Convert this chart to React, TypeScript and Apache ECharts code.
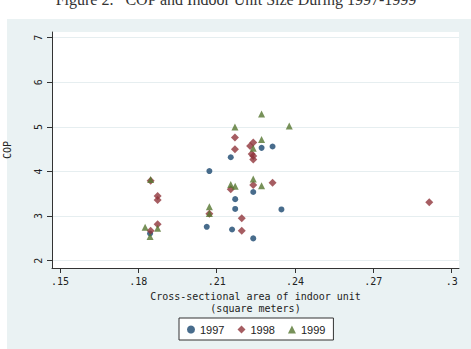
import React, { useEffect, useRef } from "react";
import * as echarts from "echarts";

const xTicks = [0.15, 0.18, 0.21, 0.24, 0.27, 0.3];
const xTickLabels = [".15", ".18", ".21", ".24", ".27", ".3"];
const yTicks = [2, 3, 4, 5, 6, 7];

const s1997: [number, number][] = [
  [0.2272, 4.53], [0.2314, 4.56], [0.2154, 4.32], [0.2072, 4.01], [0.224, 3.54],
  [0.2171, 3.38], [0.2171, 3.16], [0.2348, 3.15], [0.2062, 2.76], [0.2159, 2.7],
  [0.224, 2.5], [0.1845, 2.61],
];
const s1998: [number, number][] = [
  [0.217, 4.76], [0.224, 4.65], [0.2228, 4.57], [0.217, 4.5], [0.2234, 4.39],
  [0.224, 4.35], [0.224, 4.27], [0.1847, 3.79], [0.1874, 3.45], [0.1874, 3.36],
  [0.2154, 3.6], [0.224, 3.7], [0.2314, 3.75], [0.2072, 3.05], [0.2196, 2.95],
  [0.1874, 2.82], [0.1847, 2.67], [0.2196, 2.67], [0.2914, 3.31],
];
const s1999: [number, number][] = [
  [0.2272, 5.29], [0.217, 5.0], [0.2378, 5.02], [0.2272, 4.72], [0.224, 4.52],
  [0.1847, 3.82], [0.2154, 3.71], [0.2171, 3.67], [0.224, 3.83], [0.2272, 3.68],
  [0.2072, 3.21], [0.2072, 3.06], [0.1826, 2.75], [0.1874, 2.73], [0.1845, 2.54],
];

const MONO = '"DejaVu Sans Mono", monospace';

export default function App() {
  const ref = useRef<HTMLDivElement>(null);
  useEffect(() => {
    if (!ref.current) return;
    const chart = echarts.init(ref.current, null, { renderer: "svg" });
    chart.setOption({
      animation: false,
      backgroundColor: "#ffffff",
      graphic: [
        { type: "rect", z: -10, shape: { x: 7, y: 19, width: 464, height: 330 }, style: { fill: "#eaf2f3" } },
        {
          type: "text", x: 236, y: -9,
          style: { text: "Figure 2.   COP and Indoor Unit Size During 1997-1999", font: '16px "Liberation Serif"', fill: "#333", textAlign: "center", textVerticalAlign: "top" },
        },
      ],
      grid: {
        left: 52, right: 12, top: 32, bottom: 81, show: true, backgroundColor: "#ffffff", borderWidth: 0,
        containLabel: false, outerBoundsMode: "none",
      },
      xAxis: {
        type: "value", min: 0.14694, max: 0.3028,
        name: "Cross-sectional area of indoor unit\n(square meters)",
        nameLocation: "middle", nameGap: 21,
        nameTextStyle: { fontFamily: MONO, fontSize: 10, color: "#222", lineHeight: 12 },
        axisLine: { show: true, lineStyle: { color: "#333", width: 1 } },
        axisTick: { show: true, customValues: xTicks, length: 5, lineStyle: { color: "#333" } },
        axisLabel: {
          customValues: xTicks, fontFamily: MONO, fontSize: 10, color: "#222", margin: 8,
          formatter: (v: number) => { const i = xTicks.findIndex((t) => Math.abs(t - v) < 1e-6); return i >= 0 ? xTickLabels[i] : ""; },
        },
        splitLine: { show: false },
      },
      yAxis: {
        type: "value", min: 1.8363, max: 7.1278,
        name: "COP", nameLocation: "middle", nameGap: 40, nameRotate: 90,
        nameTextStyle: { fontFamily: MONO, fontSize: 10, color: "#222" },
        axisLine: { show: true, lineStyle: { color: "#333", width: 1 } },
        axisTick: { show: true, customValues: yTicks, length: 5, lineStyle: { color: "#333" } },
        axisLabel: { customValues: yTicks, rotate: 90, fontFamily: MONO, fontSize: 10, color: "#222", margin: 9 },
        splitLine: { show: true, lineStyle: { color: "#e6eef0", width: 1 } },
      },
      legend: {
        left: 179, top: 318, orient: "horizontal",
        backgroundColor: "#ffffff", borderColor: "#333", borderWidth: 1,
        padding: [6, 8, 5, 8], itemGap: 13, itemWidth: 8, itemHeight: 8,
        textStyle: { fontFamily: '"Liberation Sans", sans-serif', fontSize: 11, color: "#222" },
        data: ["1997", "1998", "1999"],
      },
      series: [
        { name: "1997", type: "scatter", data: s1997, symbol: "circle", symbolSize: 6, itemStyle: { color: "#1a476f" }, z: 3 },
        { name: "1998", type: "scatter", data: s1998, symbol: "diamond", symbolSize: 8, itemStyle: { color: "#90353b" }, z: 4 },
        { name: "1999", type: "scatter", data: s1999, symbol: "triangle", symbolSize: 7, itemStyle: { color: "#55752f" }, z: 5 },
      ],
    });
    return () => chart.dispose();
  }, []);
  return <div ref={ref} style={{ position: "fixed", left: 0, top: 0, width: 471, height: 349 }} />;
}
